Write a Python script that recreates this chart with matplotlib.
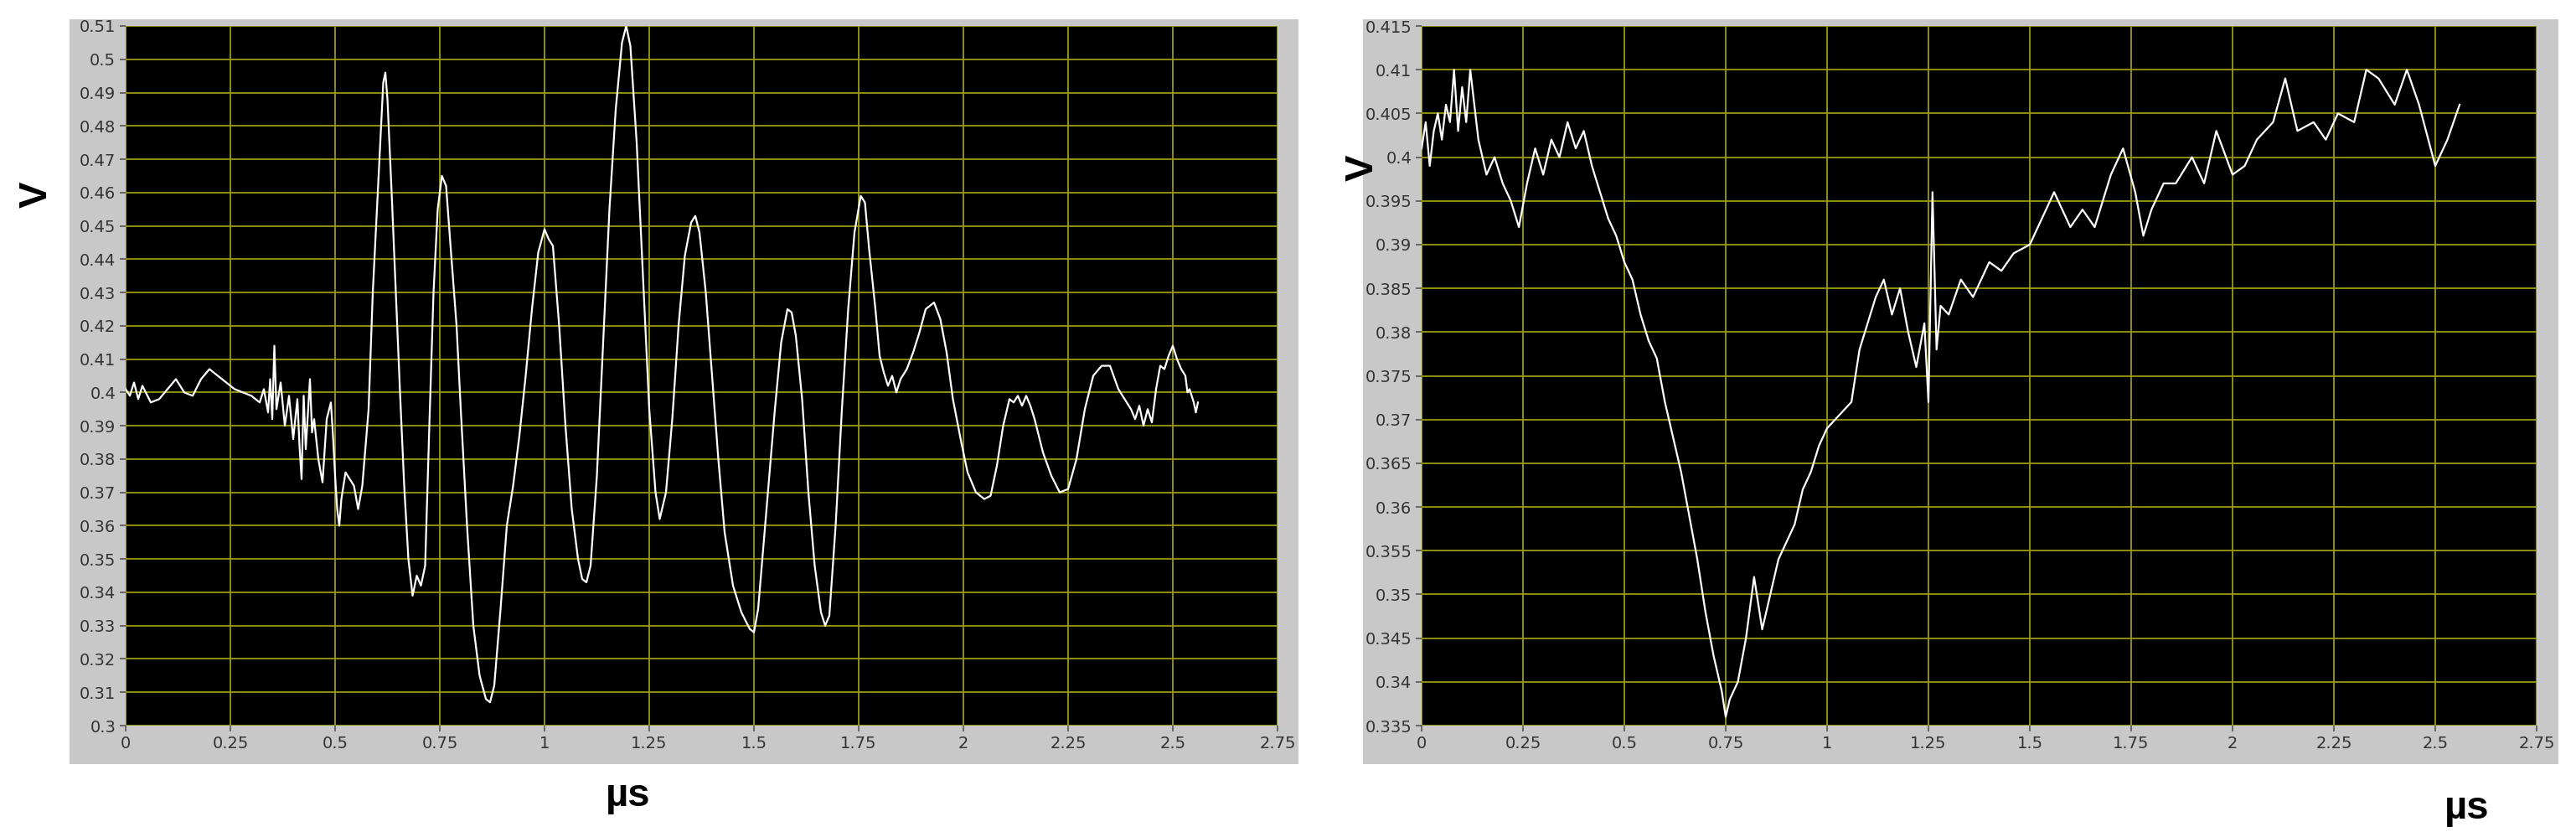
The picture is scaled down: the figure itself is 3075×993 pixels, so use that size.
import matplotlib
matplotlib.use("Agg")
import matplotlib.pyplot as plt

# Left waveform: (time µs, voltage V)
left_points = [
    (0.00,0.401),(0.01,0.399),(0.02,0.403),(0.03,0.398),(0.04,0.402),(0.06,0.397),(0.08,0.398),
    (0.10,0.401),(0.12,0.404),(0.14,0.400),(0.16,0.399),(0.18,0.404),(0.20,0.407),(0.22,0.405),
    (0.24,0.403),(0.26,0.401),(0.28,0.400),(0.30,0.399),(0.32,0.397),(0.33,0.401),(0.34,0.394),
    (0.345,0.404),(0.35,0.392),(0.355,0.414),(0.36,0.395),(0.37,0.403),(0.38,0.390),(0.39,0.399),
    (0.40,0.386),(0.41,0.398),(0.415,0.384),(0.42,0.374),(0.425,0.399),(0.43,0.383),(0.44,0.404),
    (0.445,0.388),(0.45,0.392),(0.46,0.380),(0.47,0.373),(0.48,0.392),(0.49,0.397),(0.495,0.387),
    (0.50,0.375),(0.505,0.365),(0.51,0.360),(0.515,0.368),(0.525,0.376),(0.535,0.374),(0.545,0.372),
    (0.555,0.365),(0.565,0.372),(0.58,0.395),(0.59,0.430),(0.60,0.455),(0.61,0.480),(0.615,0.493),
    (0.62,0.496),(0.625,0.488),(0.635,0.460),(0.645,0.430),(0.655,0.400),(0.665,0.372),(0.675,0.350),
    (0.685,0.339),(0.695,0.345),(0.705,0.342),(0.715,0.348),(0.725,0.390),(0.735,0.430),(0.745,0.455),
    (0.755,0.465),(0.765,0.462),(0.775,0.445),(0.79,0.420),(0.80,0.395),(0.815,0.360),(0.83,0.330),
    (0.845,0.315),(0.86,0.308),(0.87,0.307),(0.88,0.312),(0.895,0.335),(0.91,0.360),(0.925,0.372),
    (0.94,0.387),(0.955,0.405),(0.97,0.425),(0.985,0.442),(1.00,0.449),(1.01,0.446),(1.02,0.444),
    (1.035,0.420),(1.05,0.390),(1.065,0.365),(1.08,0.350),(1.09,0.344),(1.10,0.343),(1.11,0.348),
    (1.125,0.375),(1.14,0.415),(1.155,0.455),(1.17,0.485),(1.185,0.505),(1.195,0.510),(1.205,0.504),
    (1.22,0.475),(1.235,0.435),(1.25,0.395),(1.265,0.370),(1.275,0.362),(1.29,0.370),(1.305,0.392),
    (1.32,0.420),(1.335,0.441),(1.35,0.451),(1.36,0.453),(1.37,0.448),(1.385,0.430),(1.40,0.405),
    (1.415,0.380),(1.43,0.358),(1.45,0.342),(1.47,0.334),(1.49,0.329),(1.50,0.328),(1.51,0.335),
    (1.53,0.365),(1.55,0.395),(1.565,0.415),(1.58,0.425),(1.59,0.424),(1.60,0.417),(1.615,0.398),
    (1.63,0.370),(1.645,0.348),(1.66,0.334),(1.67,0.330),(1.68,0.333),(1.695,0.360),(1.71,0.395),
    (1.725,0.425),(1.74,0.448),(1.755,0.459),(1.765,0.457),(1.775,0.443),(1.79,0.425),(1.80,0.411),
    (1.81,0.406),(1.82,0.402),(1.83,0.405),(1.84,0.400),(1.85,0.404),(1.865,0.407),(1.88,0.412),
    (1.895,0.418),(1.91,0.425),(1.93,0.427),(1.945,0.422),(1.96,0.412),(1.975,0.398),(1.995,0.385),
    (2.01,0.376),(2.03,0.370),(2.05,0.368),(2.065,0.369),(2.08,0.378),(2.095,0.390),(2.11,0.398),
    (2.12,0.397),(2.13,0.399),(2.14,0.396),(2.15,0.399),(2.16,0.396),(2.17,0.392),(2.19,0.382),
    (2.21,0.375),(2.23,0.370),(2.25,0.371),(2.27,0.380),(2.29,0.395),(2.31,0.405),(2.33,0.408),
    (2.35,0.408),(2.37,0.401),(2.39,0.397),(2.40,0.395),(2.41,0.392),(2.42,0.396),(2.43,0.390),
    (2.44,0.395),(2.45,0.391),(2.46,0.401),(2.47,0.408),(2.48,0.407),(2.49,0.411),(2.50,0.414),
    (2.51,0.410),(2.52,0.407),(2.53,0.405),(2.535,0.400),(2.54,0.401),(2.55,0.397),(2.555,0.394),
    (2.56,0.397),
]
# Right waveform
right_points = [
    (0.00,0.401),(0.01,0.404),(0.02,0.399),(0.03,0.403),(0.04,0.405),(0.05,0.402),(0.06,0.406),
    (0.07,0.404),(0.08,0.410),(0.09,0.403),(0.10,0.408),(0.11,0.404),(0.12,0.410),(0.13,0.406),
    (0.14,0.402),(0.16,0.398),(0.18,0.400),(0.20,0.397),(0.22,0.395),(0.24,0.392),(0.26,0.397),
    (0.28,0.401),(0.30,0.398),(0.32,0.402),(0.34,0.400),(0.36,0.404),(0.38,0.401),(0.40,0.403),
    (0.42,0.399),(0.44,0.396),(0.46,0.393),(0.48,0.391),(0.50,0.388),(0.52,0.386),(0.54,0.382),
    (0.56,0.379),(0.58,0.377),(0.60,0.372),(0.62,0.368),(0.64,0.364),(0.66,0.359),(0.68,0.354),
    (0.70,0.348),(0.72,0.343),(0.74,0.339),(0.75,0.336),(0.76,0.338),(0.78,0.340),(0.80,0.345),
    (0.82,0.352),(0.84,0.346),(0.86,0.350),(0.88,0.354),(0.90,0.356),(0.92,0.358),(0.94,0.362),
    (0.96,0.364),(0.98,0.367),(1.00,0.369),(1.02,0.370),(1.04,0.371),(1.06,0.372),(1.08,0.378),
    (1.10,0.381),(1.12,0.384),(1.14,0.386),(1.16,0.382),(1.18,0.385),(1.20,0.380),(1.22,0.376),
    (1.24,0.381),(1.25,0.372),(1.26,0.396),(1.27,0.378),(1.28,0.383),(1.30,0.382),(1.33,0.386),
    (1.36,0.384),(1.40,0.388),(1.43,0.387),(1.46,0.389),(1.50,0.390),(1.53,0.393),(1.56,0.396),
    (1.60,0.392),(1.63,0.394),(1.66,0.392),(1.70,0.398),(1.73,0.401),(1.76,0.396),(1.78,0.391),
    (1.80,0.394),(1.83,0.397),(1.86,0.397),(1.90,0.400),(1.93,0.397),(1.96,0.403),(2.00,0.398),
    (2.03,0.399),(2.06,0.402),(2.10,0.404),(2.13,0.409),(2.16,0.403),(2.20,0.404),(2.23,0.402),
    (2.26,0.405),(2.30,0.404),(2.33,0.410),(2.36,0.409),(2.40,0.406),(2.43,0.410),(2.46,0.406),
    (2.50,0.399),(2.53,0.402),(2.56,0.406),
]
t_left = [p[0] for p in left_points]
v_left = [p[1] for p in left_points]
t_right = [p[0] for p in right_points]
v_right = [p[1] for p in right_points]

left_yticks = [round(0.30 + 0.01*i, 2) for i in range(22)]
right_yticks = [round(0.335 + 0.005*i, 3) for i in range(17)]
xticks = [0, 0.25, 0.5, 0.75, 1, 1.25, 1.5, 1.75, 2, 2.25, 2.5, 2.75]

W, H = 3075, 993
fig = plt.figure(figsize=(W/100, H/100), dpi=100)
fig.patch.set_facecolor("white")

def frac(x0, y0, x1, y1):
    return [x0/W, 1 - y1/H, (x1-x0)/W, (y1-y0)/H]

for (x0, x1) in [(83, 1550), (1627, 3054)]:
    bg = fig.add_axes(frac(x0, 23, x1, 912), zorder=-5)
    bg.set_facecolor("#c8c8c8")
    bg.set_xticks([]); bg.set_yticks([])
    for s in bg.spines.values():
        s.set_visible(False)

def fmt(v):
    return ("%.3f" % v).rstrip("0").rstrip(".")

def setup(ax, t, v, yticks, ylim):
    ax.set_facecolor("black")
    ax.plot(t, v, color="white", lw=1.6)
    ax.set_xlim(0, 2.75)
    ax.set_ylim(*ylim)
    ax.set_xticks(xticks)
    ax.set_xticklabels([fmt(x) for x in xticks])
    ax.set_yticks(yticks)
    ax.set_yticklabels([fmt(y) for y in yticks])
    ax.grid(True, color="#9a9a10", lw=1.3)
    ax.tick_params(colors="#555555", labelcolor="#333333", labelsize=14, length=5, width=1.2)
    for s in ax.spines.values():
        s.set_visible(False)

axL = fig.add_axes(frac(150, 31, 1525, 866))
setup(axL, t_left, v_left, left_yticks, (0.30, 0.51))
axR = fig.add_axes(frac(1697, 31, 3028, 866))
setup(axR, t_right, v_right, right_yticks, (0.335, 0.415))

lab = dict(fontsize=34, fontweight="bold", family="Liberation Sans")
fig.text(22/W, 1 - 232/H, "V", ha="left", va="center", rotation=90, **lab)
fig.text(1605/W, 1 - 200/H, "V", ha="left", va="center", rotation=90, **lab)
fig.text(750/W, 1 - 950/H, "µs", ha="center", va="center", **lab)
fig.text(2945/W, 1 - 965/H, "µs", ha="center", va="center", **lab)

fig.savefig("out.png", dpi=100, facecolor="white")
